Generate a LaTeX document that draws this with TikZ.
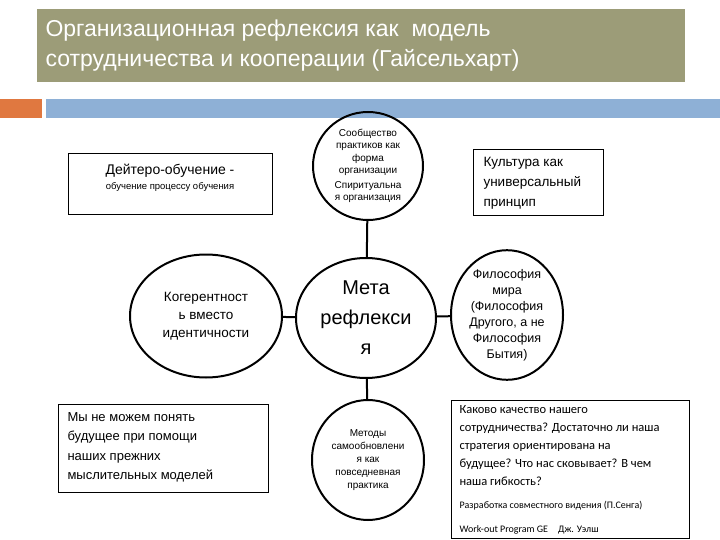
\documentclass[tikz,border=0pt]{standalone}
\usepackage{fontspec}
\setmainfont{Liberation Sans}
\newfontfamily\carlfont{Carlito}
\usetikzlibrary{shapes.geometric}
\definecolor{olive}{HTML}{9C9C78}
\definecolor{orng}{HTML}{E07840}
\definecolor{blu}{HTML}{8EB0D6}
\begin{document}
\begin{tikzpicture}[x=1pt,y=-1pt,
  circ/.style={draw,ellipse,line width=2pt,inner sep=0pt,align=center},
  box/.style={draw,line width=1pt,inner sep=0pt}]
\useasboundingbox (0,0) rectangle (720,540);
\fill[olive] (37,9) rectangle (685,82);
\node[anchor=west,text=white,font=\fontsize{23}{30}\selectfont,align=left] (title) at (42,46)
 {Организационная рефлексия как\ \ модель\\сотрудничества и кооперации (Гайсельхарт)};
\fill[orng] (0,99) rectangle (42,118);
\fill[blu] (46,99) rectangle (720,118);
\node[circ,minimum width=110pt,minimum height=108pt,font=\fontsize{10}{12.5}\selectfont] (top) at (368,166)
 {Сообщество\\практиков как\\форма\\организации\\[2pt]Спиритуальна\\я организация};
\node[box,minimum width=130pt,minimum height=66pt] (cult) at (538,183) {};
\node[anchor=north west,align=left,font=\fontsize{13.5}{20}\selectfont] at (480,154)
 {Культура как\\универсальный\\принцип};
\node[box,minimum width=204pt,minimum height=61pt] (deut) at (170,184) {};
\node[anchor=north,align=center] at (170,161)
 {{\fontsize{14}{16}\selectfont Дейтеро-обучение -}\\[3pt]{\fontsize{9.5}{11}\selectfont обучение процессу обучения}};
\node[circ,minimum width=152pt,minimum height=123pt,font=\fontsize{13.5}{18}\selectfont] (coh) at (206,316)
 {Когерентност\\ь вместо\\идентичности};
\node[circ,minimum width=140pt,minimum height=120pt,font=\fontsize{20}{30}\selectfont] (meta) at (366,318)
 {Мета\\рефлекси\\я};
\node[circ,minimum width=112pt,minimum height=114pt,font=\fontsize{12.5}{16}\selectfont] (phil) at (507,315)
 {Философия\\мира\\(Философия\\Другого, а не\\Философия\\Бытия)};
\node[circ,minimum width=112pt,minimum height=120pt,font=\fontsize{10}{13}\selectfont] (meth) at (368,460)
 {Методы\\самообновлени\\я как\\повседневная\\практика};
\node[box,minimum width=210pt,minimum height=88pt] (mind) at (163,448) {};
\node[anchor=north west,align=left,font=\fontsize{13}{19.5}\selectfont] at (64,409)
 {Мы не можем понять\\будущее при помощи\\наших прежних\\мыслительных моделей};
\node[box,minimum width=238pt,minimum height=138pt] (qbox) at (570,469) {};
\node[anchor=north west,align=left,font=\carlfont\fontsize{12.5}{18}\selectfont] at (456,402)
 {Каково качество нашего\\сотрудничества? Достаточно ли наша\\стратегия ориентирована на\\будущее? Что нас сковывает? В чем\\наша гибкость?};
\node[anchor=north west,font=\carlfont\fontsize{10}{12}\selectfont] at (456,498) {Разработка совместного видения (П.Сенга)};
\node[anchor=north west,font=\carlfont\fontsize{10}{12}\selectfont] at (456,522) {Work-out Program GE\quad Дж. Уэлш};
\draw[line width=2pt] (top) -- (meta);
\draw[line width=2pt] (meta) -- (meth);
\draw[line width=2pt] (coh) -- (meta);
\draw[line width=2pt] (meta) -- (phil);
\end{tikzpicture}
\end{document}
